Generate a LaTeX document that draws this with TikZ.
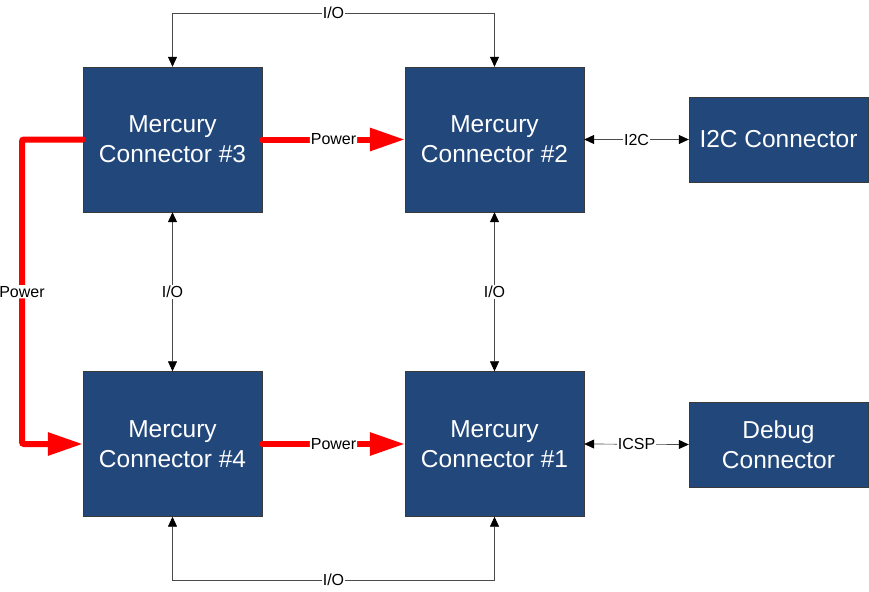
\documentclass[tikz,border=0pt]{standalone}
\usepackage{fontspec}
\setmainfont{Liberation Sans}
\usetikzlibrary{arrows.meta}

\begin{document}
\begin{tikzpicture}[x=1pt, y=-1pt]
    % Define colours
    \definecolor{boxColour}{HTML}{21477B}
    \definecolor{borderColour}{HTML}{3A3A3A}
    \definecolor{lineColour}{HTML}{4A4A4A}
    \definecolor{powerColour}{HTML}{FF0000}

    % Define styles
    \tikzset{
        conbox/.style={rectangle, draw=borderColour, fill=boxColour, text=white, align=center,
            minimum width=179pt, minimum height=145pt, font=\fontsize{24.5}{30}\selectfont},
        smallbox/.style={conbox, minimum height=85pt},
        lbl/.style={fill=white, inner sep=1pt, font=\fontsize{16}{18}\selectfont},
        iolink/.style={draw=lineColour, line width=0.7pt,
            {Triangle[length=10pt,width=9pt,black]}-{Triangle[length=10pt,width=9pt,black]}},
        powerlink/.style={draw=powerColour, line width=6pt, line cap=round, rounded corners=2pt,
            -{Triangle[length=35pt,width=22pt]}}
    }

    \useasboundingbox (0,0) rectangle (869,591);

    % Draw connector blocks
    \node[conbox] (mc3) at (172.5,139.5) {Mercury\\Connector \#3};
    \node[conbox] (mc2) at (494.5,139.5) {Mercury\\Connector \#2};
    \node[conbox] (mc4) at (172.5,444) {Mercury\\Connector \#4};
    \node[conbox] (mc1) at (494.5,444) {Mercury\\Connector \#1};
    \node[smallbox] (i2c) at (778.5,139.5) {I2C Connector};
    \node[smallbox] (debug) at (778.5,444.5) {Debug\\Connector};

    % Define routing levels
    \coordinate (ioTop) at (0,13);
    \coordinate (ioBottom) at (0,580);
    \coordinate (powerLeft) at (22,0);

    % Draw I/O links
    \draw[iolink] (mc3.north) -- (mc3.north |- ioTop) -- node[lbl] {I/O} (mc2.north |- ioTop) -- (mc2.north);
    \draw[iolink] (mc4.south) -- (mc4.south |- ioBottom) -- node[lbl] {I/O} (mc1.south |- ioBottom) -- (mc1.south);
    \draw[iolink] (mc3.south) -- node[lbl] {I/O} (mc4.north);
    \draw[iolink] (mc2.south) -- node[lbl] {I/O} (mc1.north);
    \draw[iolink] (mc2.east) -- node[lbl] {I2C} (i2c.west);
    \draw[iolink] (mc1.east) -- node[lbl] {ICSP} (debug.west);

    % Draw power links
    \draw[powerlink] (mc3.east) -- node[lbl] {Power} (mc2.west);
    \draw[powerlink] (mc4.east) -- node[lbl] {Power} (mc1.west);
    \draw[powerlink] (mc3.west) -- (powerLeft |- mc3.west) -- node[lbl] {Power} (powerLeft |- mc4.west) -- (mc4.west);
\end{tikzpicture}
\end{document}
